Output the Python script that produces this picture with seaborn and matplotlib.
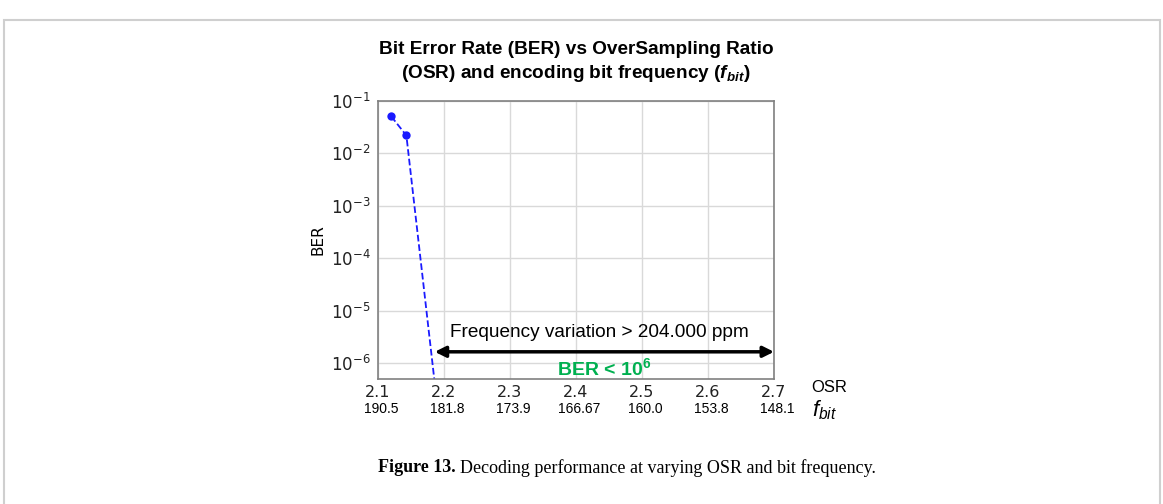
import numpy as np
import pandas as pd
import matplotlib
matplotlib.use("Agg")
import matplotlib.pyplot as plt
import seaborn as sns
from matplotlib.patches import Rectangle

# ---- data ----
osr = [2.12, 2.143, 2.19]
ber = [0.051, 0.022, 1.5e-7]
osr_ticks = [2.1, 2.2, 2.3, 2.4, 2.5, 2.6, 2.7]
fbit_labels = ["190.5", "181.8", "173.9", "166.67", "160.0", "153.8", "148.1"]
arrow_x = [2.186, 2.7]
arrow_y = 1.65e-6

df = pd.DataFrame({"OSR": osr, "BER": ber})

sns.set_style("white")
plt.rcParams["font.family"] = ["DejaVu Sans"]
plt.rcParams["text.color"] = "black"
plt.rcParams["axes.labelcolor"] = "black"
plt.rcParams["xtick.labelcolor"] = "#222222"
plt.rcParams["ytick.labelcolor"] = "#222222"
plt.rcParams["mathtext.fontset"] = "custom"
plt.rcParams["mathtext.it"] = "Liberation Sans:italic"
plt.rcParams["mathtext.rm"] = "Liberation Sans"
plt.rcParams["mathtext.bf"] = "Liberation Sans:bold"
try:
    plt.rcParams["mathtext.bfit"] = "Liberation Sans:italic:bold"
except KeyError:
    pass

W, H = 1163, 504
fig = plt.figure(figsize=(W / 100, H / 100), dpi=100)
fig.patch.set_facecolor("white")
# light frame
fig.patches.append(Rectangle((4 / W, -0.05), 1156 / W, 1 - 20 / H + 0.05,
                             transform=fig.transFigure, fill=False,
                             edgecolor="#cfcfcf", linewidth=1.5))

ax = fig.add_axes([378 / W, 1 - 379 / H, (774 - 378) / W, (379 - 101) / H])
sns.lineplot(data=df, x="OSR", y="BER", ax=ax, color="#1a1aff", linestyle="--",
             marker="o", markersize=6, markeredgewidth=0, linewidth=1.3)
ax.set_yscale("log")
ax.set_xlim(2.1, 2.7)
ax.set_ylim(5e-7, 1e-1)
ax.set_xticks(osr_ticks)
ax.set_xticklabels([f"{t:.1f}" for t in osr_ticks])
ax.tick_params(axis="y", which="major", labelsize=12)
ax.tick_params(axis="x", which="major", labelsize=11.5)
ax.grid(True, which="major", color="#d9d9d9", linewidth=1.0)
for s in ax.spines.values():
    s.set_color("#808080")
    s.set_linewidth(1.2)
ax.tick_params(axis="both", which="both", color="#808080", direction="out")
ax.tick_params(axis="x", length=3.5, pad=0.5)
ax.tick_params(axis="y", which="major", length=3.5, pad=2)
ax.tick_params(axis="y", which="minor", length=2)
ax.set_xlabel("")
ax.set_ylabel("BER", fontsize=11)
ax.yaxis.set_label_coords((326 - 378) / 396, 0.5)

# arrow and annotations
ax.annotate("", xy=(arrow_x[0], arrow_y), xytext=(arrow_x[1], arrow_y),
            arrowprops=dict(arrowstyle="<|-|>", color="black", lw=2.5,
                            mutation_scale=16, shrinkA=0, shrinkB=0))
ax.text(2.435, 3.8e-6, "Frequency variation > 204.000 ppm", ha="center", va="center",
        fontsize=13.7, family="Liberation Sans")
ax.text(2.443, 8.0e-7, r"BER < 10$^{\mathbf{6}}$", ha="center", va="center",
        fontsize=14, fontweight="bold", color="#00b050", family="Liberation Sans")

# second row of tick labels (f_bit)
for x, lab in zip(osr_ticks, fbit_labels):
    xf = ax.transData.transform((x, 1e-6))[0]
    fig.text((xf + 3) / W, 1 - 409 / H, lab, ha="center", va="center",
             fontsize=10, family="Liberation Sans")
fig.text(811 / W, 1 - 388 / H, "OSR", ha="left", va="center",
         fontsize=12, family="Liberation Sans")
fig.text(812 / W, 1 - 410 / H, r"$f_{bit}$", ha="left", va="center",
         fontsize=16, family="Liberation Sans")

# title
fig.text(576 / W, 1 - 50 / H, "Bit Error Rate (BER) vs OverSampling Ratio",
         ha="center", va="center", fontsize=13.7, fontweight="bold", family="Liberation Sans")
t2 = r"(OSR) and encoding bit frequency ($\mathbfit{f}_{\mathbfit{bit}}$)"
tt = fig.text(576 / W, 1 - 73 / H, t2, ha="center", va="center", fontsize=13.7,
              fontweight="bold", family="Liberation Sans")
try:
    fig.canvas.draw()
except Exception:
    tt.set_text(r"(OSR) and encoding bit frequency ($f_{bit}$)")

# caption
cap1 = fig.text(378 / W, 1 - 468 / H, "Figure 13.", ha="left", va="center",
                fontsize=13, fontweight="bold", family="Liberation Serif")
fig.canvas.draw()
bb = cap1.get_window_extent(fig.canvas.get_renderer())
fig.text((bb.x1 + 4) / W, 1 - 468 / H,
         "Decoding performance at varying OSR and bit frequency.",
         ha="left", va="center", fontsize=13, family="Liberation Serif")

fig.savefig("out.png", dpi=100, facecolor="white")
